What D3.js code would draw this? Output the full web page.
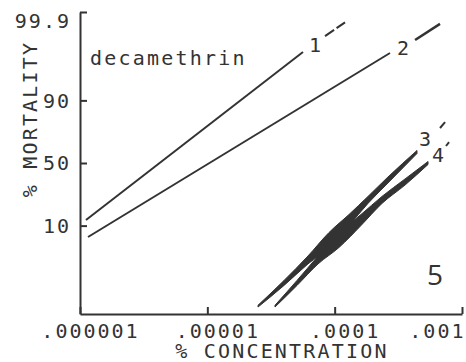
<!DOCTYPE html>
<html>
<head>
<meta charset="utf-8">
<script src="https://cdn.jsdelivr.net/npm/d3@7"></script>
<style>
  body { margin: 0; background: #fff; }
  text { font-family: "DejaVu Sans Mono", monospace; fill: #333; }
</style>
</head>
<body>
<div id="chart"></div>
<script>
// x ticks (% concentration) and y ticks (% mortality, probit scale)
var xTicks = [1e-6, 1e-5, 1e-4, 1e-3];
var xTickLabels = [".000001", ".00001", ".0001", ".001"];
var yTicks = [10, 50, 90, 99.9];
var yTickLabels = ["10", "50", "90", "99.9"];

// lines 1 and 2: [concentration, mortality %]
var line1 = [[1.114e-6, 12.2], [5.64e-5, 98.84]];
var line1Tail = [[8.40e-5, 99.53], [1.206e-4, 99.80]];
var line2 = [[1.156e-6, 6.5], [2.72e-4, 98.78]];
var line2Tail = [[4.28e-4, 99.41], [6.72e-4, 99.78]];

// lines 3 and 4 drawn as bands: [concentration, low %, high %]
var line3 = [
    [2.50e-5, 0.16, 0.18], [4.00e-5, 0.61, 0.81], [6.17e-5, 1.94, 2.85], [9.03e-5, 4.19, 7.75],
    [1.296e-4, 10.05, 14.6], [1.827e-4, 20.4, 24.7], [2.62e-4, 34.1, 38.7], [4.43e-4, 57.7, 60.1]
];
var line3Tail = [[6.72e-4, 76.3], [7.36e-4, 79.9]];
var line4 = [
    [3.40e-5, 0.16, 0.18], [5.06e-5, 0.61, 0.81], [7.40e-5, 1.94, 2.85], [1.081e-4, 4.19, 7.75],
    [1.610e-4, 10.05, 14.6], [2.353e-4, 20.4, 24.7], [3.57e-4, 32.6, 37.2], [5.41e-4, 48.8, 51.2]
];
var line4Tail = [[7.49e-4, 63.6], [7.91e-4, 66.6]];

// line labels: [text, concentration, mortality %]
var lineLabels = [["1", 7.01e-5, 99.21], ["2", 3.44e-4, 99.07], ["3", 5.12e-4, 68.8], ["4", 6.48e-4, 56.5]];

// inverse normal cdf (Acklam)
function probit(p) {
    var a = [-3.969683028665376e+01, 2.209460984245205e+02, -2.759285104469687e+02, 1.383577518672690e+02, -3.066479806614716e+01, 2.506628277459239e+00];
    var b = [-5.447609879822406e+01, 1.615858368580409e+02, -1.556989798598866e+02, 6.680131188771972e+01, -1.328068155288572e+01];
    var c = [-7.784894002430293e-03, -3.223964580411365e-01, -2.400758277161838e+00, -2.549732539343734e+00, 4.374664141464968e+00, 2.938163982698783e+00];
    var d = [7.784695709041462e-03, 3.224671290700398e-01, 2.445134137142996e+00, 3.754408661907416e+00];
    var plow = 0.02425, q, r;
    if (p < plow) {
        q = Math.sqrt(-2 * Math.log(p));
        return (((((c[0]*q+c[1])*q+c[2])*q+c[3])*q+c[4])*q+c[5]) / ((((d[0]*q+d[1])*q+d[2])*q+d[3])*q+1);
    }
    if (p > 1 - plow) {
        q = Math.sqrt(-2 * Math.log(1 - p));
        return -(((((c[0]*q+c[1])*q+c[2])*q+c[3])*q+c[4])*q+c[5]) / ((((d[0]*q+d[1])*q+d[2])*q+d[3])*q+1);
    }
    q = p - 0.5; r = q * q;
    return (((((a[0]*r+a[1])*r+a[2])*r+a[3])*r+a[4])*r+a[5])*q / (((((b[0]*r+b[1])*r+b[2])*r+b[3])*r+b[4])*r+1);
}

var margin = {top: 12, right: 4, bottom: 48, left: 80};
var width = 466 - margin.left - margin.right;
var height = 362 - margin.top - margin.bottom;
var ink = "#333";

var svg = d3.select("#chart")
    .append("svg")
    .attr("width", width + margin.left + margin.right)
    .attr("height", height + margin.top + margin.bottom)
    .append("g")
    .attr("transform", "translate(" + margin.left + "," + margin.top + ")");

var x = d3.scaleLog()
    .domain([1e-6, 1e-3])
    .range([0, width]);

var yz = d3.scaleLinear()
    .domain([probit(0.001), probit(0.999)])
    .range([height, 0]);

function y(p) { return yz(probit(p / 100)); }

// axes
var xAxis = svg.append("g")
    .attr("transform", "translate(0," + height + ")")
    .call(d3.axisBottom(x)
        .tickValues(xTicks)
        .tickSize(-7)
        .tickSizeOuter(0)
        .tickPadding(10)
        .tickFormat(function(d, i) { return xTickLabels[i] }));

xAxis.selectAll("text")
    .style("font-size", "20px")
    .style("letter-spacing", "2px")
    .attr("text-anchor", function(d, i) { return i === xTicks.length - 1 ? "end" : "middle" })
    .attr("dx", function(d, i) { return i === xTicks.length - 1 ? 3 : 10 });

var yAxis = svg.append("g")
    .call(d3.axisLeft(yz)
        .tickValues(yTicks.map(function(p) { return probit(p / 100) }))
        .tickSize(-7)
        .tickSizeOuter(0)
        .tickPadding(11)
        .tickFormat(function(d, i) { return yTickLabels[i] }));

yAxis.selectAll("text")
    .style("font-size", "20px")
    .style("letter-spacing", "2px")
    .attr("dx", 2)
    .attr("dy", function(d, i) { return i === yTicks.length - 1 ? "0.75em" : "0.34em" });

svg.selectAll(".domain, .tick line")
    .attr("stroke", ink)
    .attr("stroke-width", 2);

// axis titles
svg.append("text")
    .attr("x", (172 + 392) / 2 - margin.left)
    .attr("y", height + 44)
    .style("text-anchor", "middle")
    .style("font-size", "20px")
    .style("letter-spacing", "2.2px")
    .text("% CONCENTRATION");

svg.append("text")
    .attr("transform", "rotate(-90)")
    .attr("x", -(119 - margin.top))
    .attr("y", 37 - margin.left)
    .style("text-anchor", "middle")
    .style("font-size", "20px")
    .style("letter-spacing", "2.2px")
    .text("% MORTALITY");

svg.append("text")
    .attr("x", 10)
    .attr("y", 53)
    .style("font-size", "20px")
    .style("letter-spacing", "2.2px")
    .text("decamethrin");

svg.append("text")
    .attr("x", 347)
    .attr("y", 273)
    .style("font-family", "'Open Sans', sans-serif")
    .style("font-size", "28px")
    .text("5");

// straight lines
var line = d3.line()
    .x(function(d) { return x(d[0]) })
    .y(function(d) { return y(d[1]) });

[line1, line2].forEach(function(data) {
    svg.append("path")
        .datum(data)
        .attr("fill", "none")
        .attr("stroke", ink)
        .attr("stroke-width", 2)
        .attr("d", line);
});

[line1Tail, line2Tail, line3Tail, line4Tail].forEach(function(data, i) {
    svg.append("path")
        .datum(data)
        .attr("fill", "none")
        .attr("stroke", ink)
        .attr("stroke-width", i === 1 ? 2.5 : 2)
        .attr("stroke-dasharray", i === 0 ? "11,3" : null)
        .attr("d", line);
});

// bands for lines 3 and 4
var band = d3.area()
    .x(function(d) { return x(d[0]) })
    .y0(function(d) { return y(d[1]) })
    .y1(function(d) { return y(d[2]) })
    .curve(d3.curveMonotoneX);

[line3, line4].forEach(function(data) {
    svg.append("path")
        .datum(data)
        .attr("fill", ink)
        .attr("stroke", ink)
        .attr("stroke-width", 1)
        .attr("stroke-linejoin", "round")
        .attr("d", band);
});

svg.selectAll(".line-label")
    .data(lineLabels)
    .enter().append("text")
    .attr("class", "line-label")
    .attr("x", function(d) { return x(d[1]) })
    .attr("y", function(d) { return y(d[2]) })
    .attr("dy", "0.36em")
    .style("text-anchor", "middle")
    .style("font-size", "20px")
    .text(function(d) { return d[0] });
</script>
</body>
</html>
